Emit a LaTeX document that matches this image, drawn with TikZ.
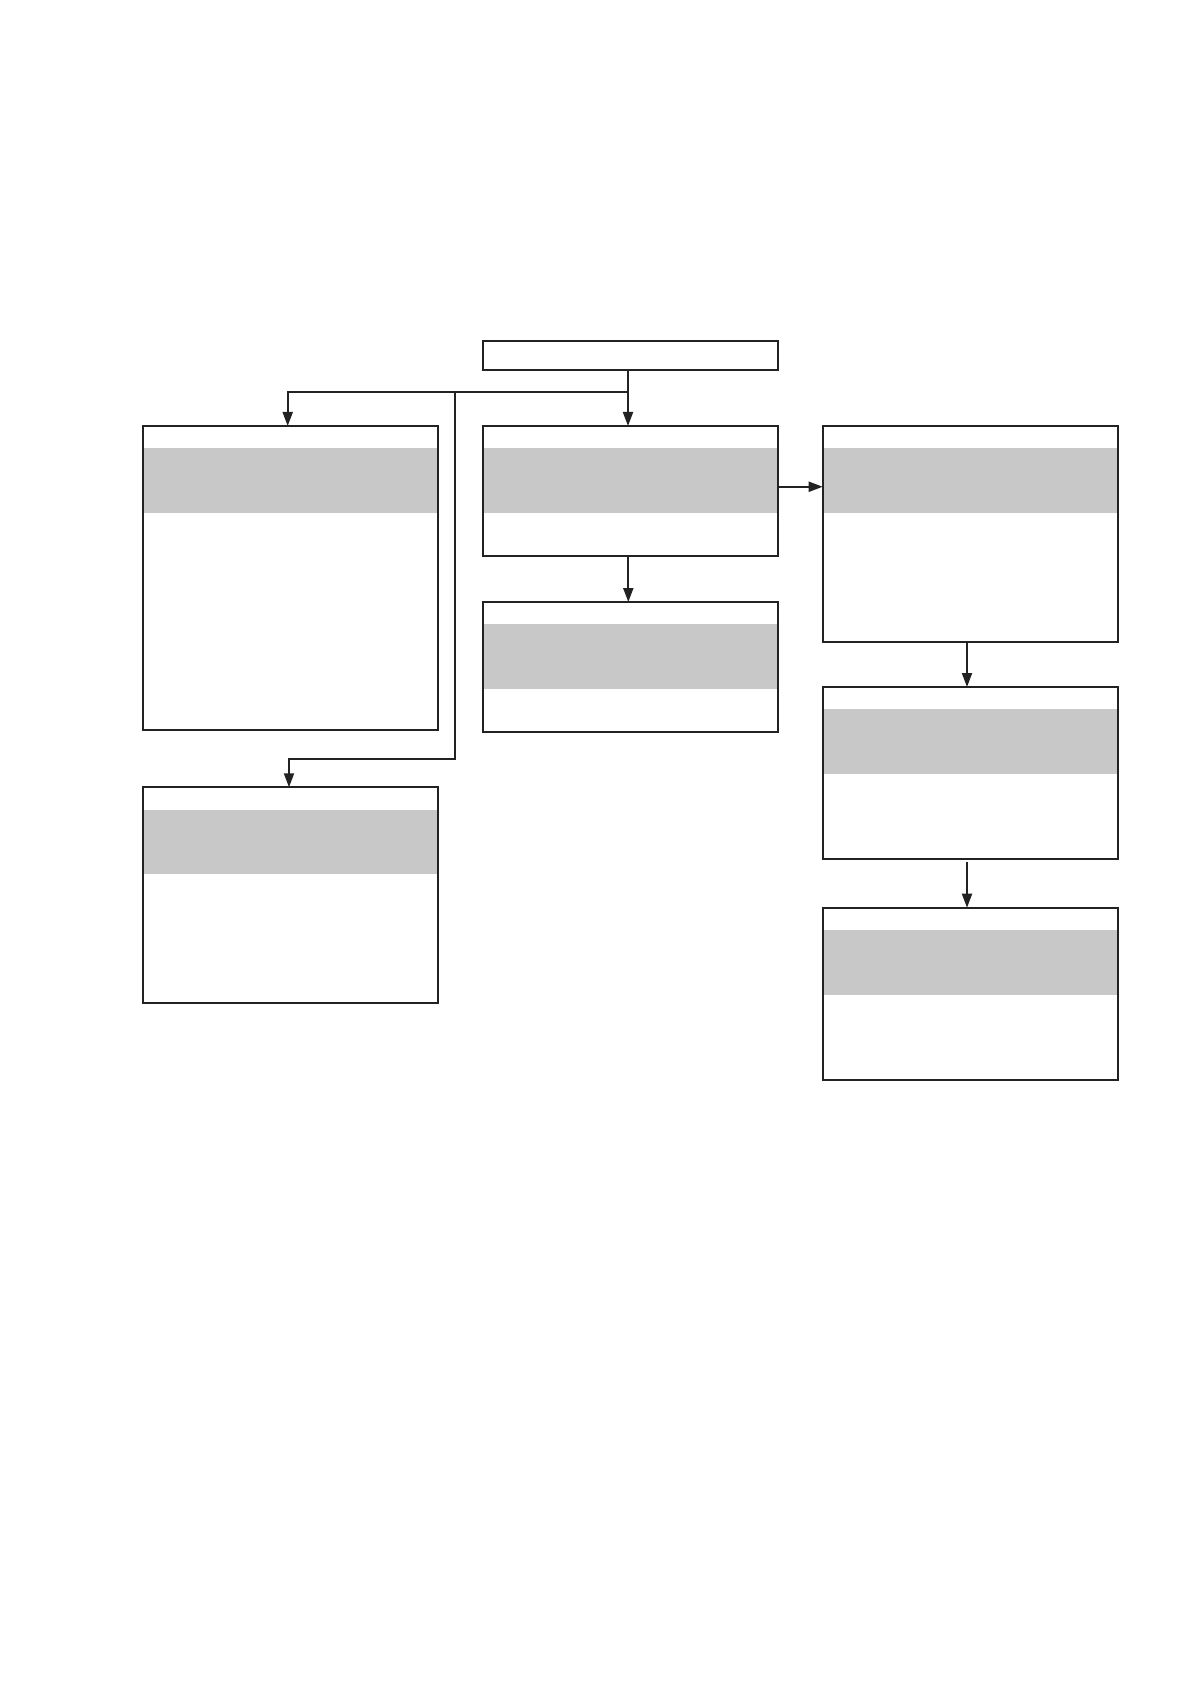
\documentclass[tikz,border=0pt]{standalone}
\usepackage[dvipsnames]{xcolor}
\usetikzlibrary{positioning,arrows.meta}
\definecolor{bandgray}{HTML}{C8C8C8}
\definecolor{linegray}{HTML}{222222}

\begin{document}
\begin{tikzpicture}[x=0.5pt,y=-0.5pt,>={Triangle[length=7pt,width=5pt]},color=linegray,line width=1pt,
    panel/.style={rectangle,draw,fill=white,inner sep=0pt,outer sep=0pt,minimum width=147.8pt,
        path picture={\fill[bandgray] ([yshift=-11.1pt]path picture bounding box.north west) rectangle ([yshift=-43.4pt]path picture bounding box.north east);}},
    title node/.style={rectangle,draw,fill=white,inner sep=0pt,outer sep=0pt,minimum width=147.8pt,minimum height=14.65pt}]
                \path[fill=white] (0,0) rectangle (1191,1684);
                \useasboundingbox (0,0) rectangle (1191,1684);

                \node[title node] (1) at (630.5,355.35) {};
                \node[panel,minimum height=152pt,anchor=north] (2) at (290.5,426) {};
                \node[panel,minimum height=64.75pt,anchor=north] (3) at (630.5,426) {};
                \node[panel,minimum height=108.3pt,anchor=north] (4) at (970.5,425.7) {};
                \node[panel,minimum height=107.7pt] (5) [below=28.65pt of 2] {};
                \node[panel,minimum height=65pt] (6) [below=23.25pt of 3] {};
                \node[panel,minimum height=86.15pt] (7) [below=22.35pt of 4] {};
                \node[panel,minimum height=86.3pt] (8) [below=24.2pt of 7] {};

                \coordinate (split) at ([xshift=-1.25pt]1.south |- 0,392);
                \coordinate (tap) at (455,392);
                \coordinate (bend) at (455,759);

                \path[->]
                    ([xshift=-1.25pt]1.south) edge ([xshift=-1.25pt]3.north)
                    ([xshift=-1.1pt]3.south) edge ([xshift=-1.1pt]6.north)
                    ([xshift=-1.75pt]4.south) edge ([xshift=-1.75pt]7.north)
                    ([xshift=-1.75pt,yshift=-1.5pt]7.south) edge ([xshift=-1.75pt]8.north)
                    ;
                \draw[->] (split) -| ([xshift=-1.4pt]2.north);
                \draw[->] (tap) -- (bend) -| ([xshift=-0.75pt]5.north);
                \draw[->] ([yshift=2pt]3.east) -- ([yshift=2pt]3.east -| 4.west);
            \end{tikzpicture}
\end{document}
